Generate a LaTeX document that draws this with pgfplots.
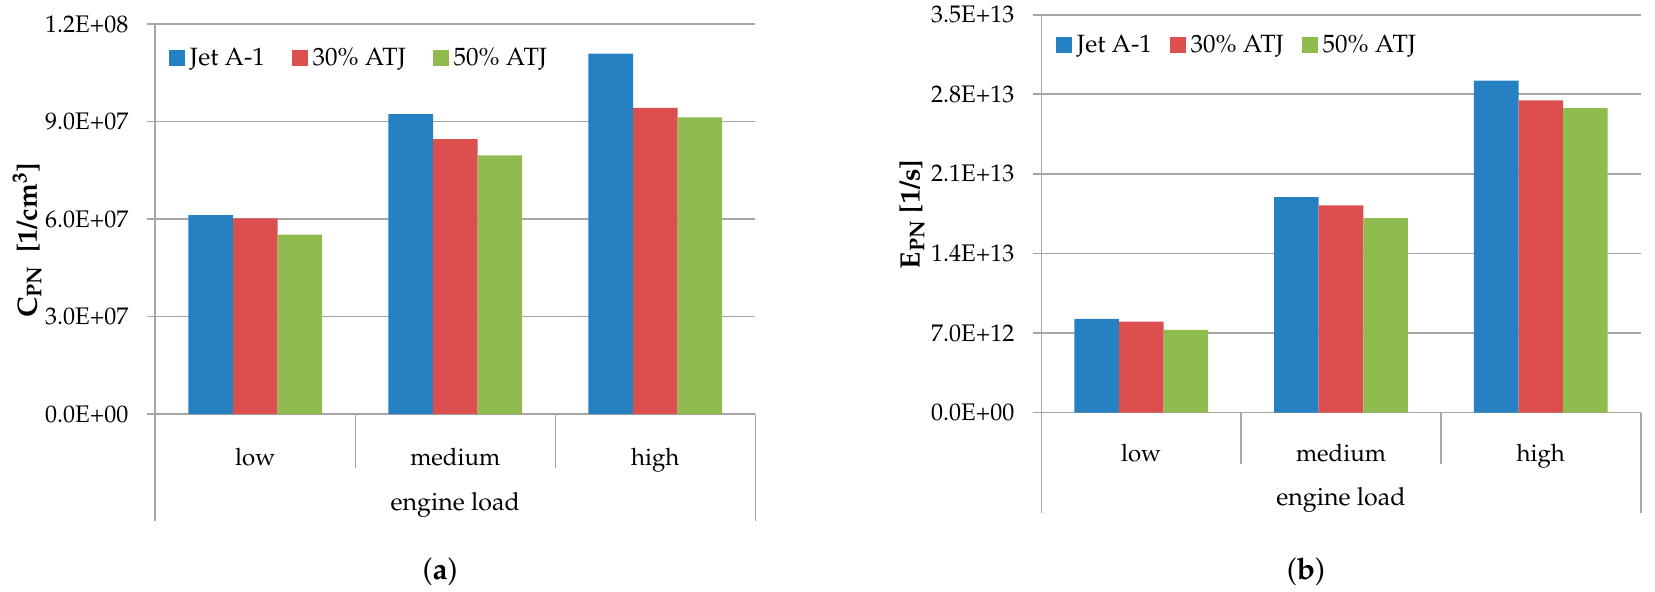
\documentclass[border=0pt]{standalone}
\usepackage[T1]{fontenc}
\usepackage{mathpazo}
\usepackage{pgfplots}
\pgfplotsset{compat=1.18}
\definecolor{cblue}{RGB}{37,129,193}
\definecolor{cred}{RGB}{221,79,79}
\definecolor{cgreen}{RGB}{143,187,79}
\definecolor{gridgray}{RGB}{166,166,166}
\pgfplotsset{
  sqblue/.style={fill=cblue,draw=none,legend image code/.code={\fill[cblue] (0pt,-4pt) rectangle (8pt,4pt);}},
  sqred/.style={fill=cred,draw=none,legend image code/.code={\fill[cred] (0pt,-4pt) rectangle (8pt,4pt);}},
  sqgreen/.style={fill=cgreen,draw=none,legend image code/.code={\fill[cgreen] (0pt,-4pt) rectangle (8pt,4pt);}},
  mystyle/.style={
    scale only axis, clip=false,
    ybar=0pt, bar width=22.3pt,
    xmin=0.5, xmax=3.5, ymin=0,
    scaled y ticks=false,
    xtick={1,2,3}, xticklabels={low,medium,high},
    x tick style={draw=none},
    axis x line*=bottom, axis y line*=left,
    axis line style={draw=gridgray, line width=0.8pt},
    ymajorgrids, grid style={draw=gridgray, line width=0.8pt},
    y tick style={draw=gridgray, line width=0.8pt},
    tick align=outside, major tick length=4.3pt,
    /pgf/number format/assume math mode=true,
    tick label style={font=\fontsize{12}{14}\selectfont},
    yticklabel style={anchor=east, inner sep=0pt, xshift=-9pt},
    xticklabel style={anchor=base, inner sep=0pt},
    xlabel style={font=\fontsize{12.5}{15}\selectfont, anchor=base, inner sep=0pt},
    ylabel style={font=\fontsize{14}{17}\selectfont\bfseries, anchor=center, inner sep=0pt},
    legend columns=3,
    legend style={draw=none, fill=none, inner sep=0pt, outer sep=0pt, anchor=west,
      font=\fontsize{12.5}{15}\selectfont,
      nodes={inner sep=0pt}},
  }
}
\begin{document}
\begin{tikzpicture}
\useasboundingbox (0,0) rectangle (827.5pt,295.5pt);
% ---------- (a) ----------
\begin{axis}[mystyle,
  at={(77.65pt,88.5pt)}, anchor=south west,
  width=300pt, height=195pt,
  ymax=1.2e8,
  ytick={0,3e7,6e7,9e7,1.2e8},
  yticklabels={0.0E+00,3.0E+07,6.0E+07,9.0E+07,1.2E+08},
  xticklabel style={yshift=-21.35pt},
  xlabel={engine load},
  xlabel style={at={(axis description cs:0.5,0)}, yshift=-48.35pt},
  ylabel={C\textsubscript{PN}\hspace{0.45em}[1/cm\textsuperscript{3}]},
  ylabel style={at={(axis description cs:-0.2138,0.446)}},
  legend style={at={(axis description cs:0.0228,0.912)},
    /tikz/every even column/.append style={column sep=13.3pt},
    /tikz/every odd column/.append style={column sep=2.5pt}},
]
\addplot[sqblue] coordinates {(1,6.12e7) (2,9.23e7) (3,1.109e8)};
\addplot[sqred] coordinates {(1,6.02e7) (2,8.46e7) (3,9.42e7)};
\addplot[sqgreen] coordinates {(1,5.52e7) (2,7.96e7) (3,9.13e7)};
\legend{Jet A-1,30\% ATJ,50\% ATJ}
\draw[gridgray, line width=0.8pt] (axis cs:0.5,0) -- ++(0pt,-53.5pt);
\draw[gridgray, line width=0.8pt] (axis cs:1.5,0) -- ++(0pt,-26.85pt);
\draw[gridgray, line width=0.8pt] (axis cs:2.5,0) -- ++(0pt,-26.85pt);
\draw[gridgray, line width=0.8pt] (axis cs:3.5,0) -- ++(0pt,-53.5pt);
\node[anchor=base, inner sep=0pt, font=\fontsize{15}{18}\selectfont, yshift=-82.5pt] at (axis description cs:0.4745,0) {(\textbf{a})};
\end{axis}
% ---------- (b) ----------
\begin{axis}[mystyle,
  at={(520.65pt,89.25pt)}, anchor=south west,
  width=299.7pt, height=198.9pt,
  ymax=3.5e13,
  ytick={0,7e12,1.4e13,2.1e13,2.8e13,3.5e13},
  yticklabels={0.0E+00,7.0E+12,1.4E+13,2.1E+13,2.8E+13,3.5E+13},
  xticklabel style={yshift=-20.4pt},
  xlabel={engine load},
  xlabel style={at={(axis description cs:0.5,0)}, yshift=-46.5pt},
  ylabel={E\textsubscript{PN}\hspace{0.25em}[1/s]},
  ylabel style={at={(axis description cs:-0.2157,0.498)}},
  legend style={at={(axis description cs:0.0245,0.924)},
    /tikz/every even column/.append style={column sep=8.8pt},
    /tikz/every odd column/.append style={column sep=2.5pt}},
]
\addplot[sqblue] coordinates {(1,8.24e12) (2,1.896e13) (3,2.919e13)};
\addplot[sqred] coordinates {(1,8.0e12) (2,1.823e13) (3,2.746e13)};
\addplot[sqgreen] coordinates {(1,7.27e12) (2,1.710e13) (3,2.677e13)};
\legend{Jet A-1,30\% ATJ,50\% ATJ}
\draw[gridgray, line width=0.8pt] (axis cs:0.5,0) -- ++(0pt,-50.25pt);
\draw[gridgray, line width=0.8pt] (axis cs:1.5,0) -- ++(0pt,-25.75pt);
\draw[gridgray, line width=0.8pt] (axis cs:2.5,0) -- ++(0pt,-25.75pt);
\draw[gridgray, line width=0.8pt] (axis cs:3.5,0) -- ++(0pt,-50.25pt);
\node[anchor=base, inner sep=0pt, font=\fontsize{15}{18}\selectfont, yshift=-83.25pt] at (axis description cs:0.4416,0) {(\textbf{b})};
\end{axis}
\end{tikzpicture}
\end{document}
